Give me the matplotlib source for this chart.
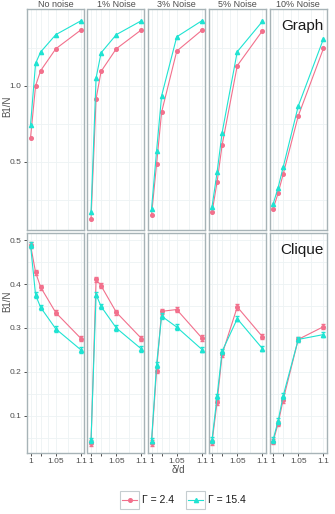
import numpy as np
import matplotlib.pyplot as plt
from matplotlib.patches import Rectangle
from matplotlib.lines import Line2D

plt.rcParams['font.family'] = ['Liberation Sans', 'DejaVu Sans']

delta = [1.0, 1.01, 1.02, 1.05, 1.1]
noise_labels = ["No noise", "1% Noise", "3% Noise", "5% Noise", "10% Noise"]
row_labels = ["Graph", "Clique"]
gamma_labels = ["Γ = 2.4", "Γ = 15.4"]

# Graph row, gamma = 2.4 / 15.4, one list per noise level
graph_g24 = [
    [0.658, 1.000, 1.099, 1.243, 1.368],
    [0.121, 0.914, 1.095, 1.243, 1.368],
    [0.149, 0.485, 0.827, 1.228, 1.366],
    [0.167, 0.366, 0.610, 1.132, 1.362],
    [0.189, 0.292, 0.417, 0.801, 1.246],
]
graph_g154 = [
    [0.743, 1.147, 1.222, 1.336, 1.428],
    [0.167, 1.051, 1.217, 1.336, 1.428],
    [0.189, 0.572, 0.934, 1.322, 1.428],
    [0.204, 0.430, 0.691, 1.224, 1.424],
    [0.220, 0.329, 0.463, 0.866, 1.309],
]
# Clique row
clique_g24 = [
    [0.489, 0.427, 0.393, 0.335, 0.276],
    [0.038, 0.411, 0.396, 0.336, 0.276],
    [0.038, 0.203, 0.338, 0.342, 0.277],
    [0.040, 0.131, 0.240, 0.348, 0.280],
    [0.041, 0.082, 0.136, 0.274, 0.303],
]
clique_g154 = [
    [0.489, 0.375, 0.347, 0.298, 0.250],
    [0.044, 0.376, 0.349, 0.300, 0.252],
    [0.043, 0.216, 0.327, 0.302, 0.251],
    [0.045, 0.144, 0.247, 0.321, 0.253],
    [0.045, 0.088, 0.145, 0.274, 0.285],
]
clique_err = 0.006

pink = '#F2708C'
cyan = '#1FE3D2'
border = '#A7B3B7'
grid = '#EDF2F4'
txt = '#4D4D4D'

W, H = 335, 514
fig = plt.figure(figsize=(W / 100, H / 100), dpi=100)

col_px = [(27, 84), (87.5, 144.5), (148, 205), (208.5, 265.5), (269.5, 326.5)]
row_px = [(9.3, 230), (232.7, 452.7)]
ylims = [(0.051, 1.503), (0.016, 0.517)]
yticks = [[0.5, 1.0], [0.1, 0.2, 0.3, 0.4, 0.5]]
yminor = [[0.25, 0.75, 1.25], [0.05, 0.15, 0.25, 0.35, 0.45]]
ylab_y = [0.56, 0.69]
data = [(graph_g24, graph_g154), (clique_g24, clique_g154)]

for r in range(2):
    top, bot = row_px[r]
    for c in range(5):
        l, rr = col_px[c]
        ax = fig.add_axes([l / W, 1 - bot / H, (rr - l) / W, (bot - top) / H])
        ax.set_xlim(0.993, 1.106)
        ax.set_ylim(*ylims[r])
        ax.set_xticks([1, 1.02, 1.05, 1.1])
        ax.set_xticks([1.01, 1.035, 1.075], minor=True)
        ax.set_yticks(yticks[r])
        ax.set_yticks(yminor[r], minor=True)
        ax.grid(True, which='both', color=grid, lw=0.6)
        ax.set_axisbelow(True)
        for s in ax.spines.values():
            s.set_color(border)
            s.set_linewidth(1.0)
        ax.tick_params(which='minor', length=0)
        ax.tick_params(which='major', length=2.5, width=0.6, color='#333333',
                       labelsize=6, labelcolor=txt, pad=1.5)
        if c == 0:
            ax.set_yticklabels([f"{v:.1f}" for v in yticks[r]])
            ax.set_ylabel("B1/N", fontsize=7, color=txt)
            ax.yaxis.set_label_coords(-15 / 57, ylab_y[r])
        else:
            ax.tick_params(axis='y', length=0, labelleft=False)
        if r == 1:
            ax.set_xticklabels(['1', '', '1.05', '1.1'])
        else:
            ax.tick_params(axis='x', length=0, labelbottom=False)
        if r == 0:
            ax.set_title(noise_labels[c], fontsize=6.5, color=txt, pad=1.5)

        g24, g154 = data[r]
        if r == 0:
            ax.plot(delta, g24[c], '-o', color=pink, lw=0.8, ms=2.6, zorder=3)
            ax.plot(delta, g154[c], '-^', color=cyan, lw=0.8, ms=3, zorder=4)
        else:
            ax.errorbar(delta, g24[c], yerr=clique_err, fmt='-o', color=pink,
                        lw=0.8, ms=2.6, elinewidth=0.8, capsize=1.2, zorder=3)
            ax.errorbar(delta, g154[c], yerr=clique_err, fmt='-^', color=cyan,
                        lw=0.8, ms=3, elinewidth=0.8, capsize=1.2, zorder=4)
        if c == 4:
            ax.text(0.95, 0.955, row_labels[r], transform=ax.transAxes,
                    ha='right', va='top', fontsize=11, color='#1a1a1a')

fig.text(178 / W, 1 - 470 / H, "δ/d", ha='center', va='center', fontsize=7, color=txt)

# legend with ggplot-style framed keys
styles = [(pink, 'o', 2.6), (cyan, '^', 3)]
key_x = [120, 186]
for (col, mk, ms), kx, lab in zip(styles, key_x, gamma_labels):
    fig.patches.append(Rectangle((kx / W, 1 - 509 / H), 19 / W, 18 / H,
                                 transform=fig.transFigure, fill=False,
                                 edgecolor='#C5CDD0', lw=0.8))
    fig.lines.append(Line2D([(kx + 2) / W, (kx + 17) / W], [1 - 500 / H] * 2,
                            transform=fig.transFigure, color=col, lw=0.8,
                            marker=None))
    fig.lines.append(Line2D([(kx + 9.5) / W], [1 - 500 / H],
                            transform=fig.transFigure, color=col, marker=mk,
                            ms=ms, lw=0))
    fig.text((kx + 22) / W, 1 - 500 / H, lab, ha='left', va='center',
             fontsize=7.5, color='#1a1a1a')

fig.savefig("out.png", dpi=100)
